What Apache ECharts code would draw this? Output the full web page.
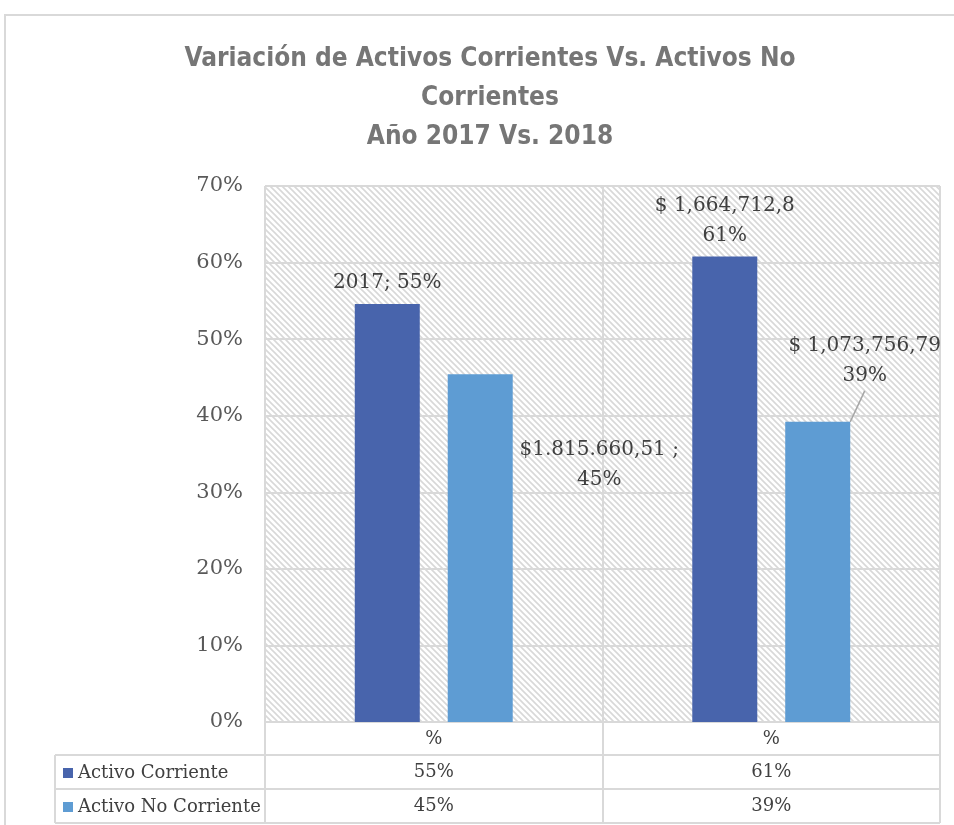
<!DOCTYPE html>
<html>
<head>
<meta charset="utf-8">
<script src="https://cdn.jsdelivr.net/npm/echarts@6/dist/echarts.min.js"></script>
<style>
  html, body { margin: 0; padding: 0; background: #fff; }
  #chart { width: 954px; height: 825px; }
</style>
</head>
<body>
<div id="chart"></div>
<script>
// data
var categories = ['%', '%'];
var seriesNames = ['Activo Corriente', 'Activo No Corriente'];
var activoCorriente = [54.6, 60.8];
var activoNoCorriente = [45.4, 39.2];
var corrienteLabels = ['2017; 55%', '$ 1,664,712,8\n61%'];
var noCorrienteLabels = ['$1.815.660,51 ;\n45%', '$ 1,073,756,79\n39%'];

var serif = "'DejaVu Serif', serif";
var narrow = "'Liberation Sans Narrow', 'DejaVu Sans Condensed', sans-serif";
var lineGray = '#d9d9d9';
var textGray = '#404040';
var dark = '#4864ac';
var light = '#5e9cd3';

function pct(v) { return Math.round(v) + '%'; }

// diagonal hatch for the plot background
function hatch() {
  var s = 6;
  var c = document.createElement('canvas');
  c.width = s; c.height = s;
  var ctx = c.getContext('2d');
  ctx.fillStyle = '#fff';
  ctx.fillRect(0, 0, s, s);
  ctx.strokeStyle = '#d8d8d8';
  ctx.lineWidth = 1.6;
  ctx.beginPath();
  ctx.moveTo(-2, -2); ctx.lineTo(s + 2, s + 2);
  ctx.moveTo(-2, s - 2); ctx.lineTo(2, s + 2);
  ctx.moveTo(s - 2, -2); ctx.lineTo(s + 2, 2);
  ctx.stroke();
  return c;
}

var chart = echarts.init(document.getElementById('chart'));

var tableAxis = function (values, offset) {
  return {
    type: 'category', data: categories, position: 'bottom', offset: offset,
    axisLine: { show: false }, axisTick: { show: false }, splitLine: { show: false },
    axisLabel: {
      margin: 8, fontFamily: serif, fontSize: 18, color: textGray,
      formatter: function (v, i) { return pct(values[i]); }
    }
  };
};

chart.setOption({
  animation: false,
  title: {
    text: 'Variación de Activos Corrientes Vs. Activos No\nCorrientes\nAño 2017 Vs. 2018',
    left: 485, top: 35, textAlign: 'center',
    textStyle: { fontFamily: narrow, fontWeight: 'bold', fontSize: 26, lineHeight: 39, color: '#767676' }
  },
  legend: {
    orient: 'vertical', left: 58, top: 757,
    itemWidth: 10, itemHeight: 10, itemGap: 12, icon: 'rect',
    textStyle: { fontFamily: serif, fontSize: 18, lineHeight: 22, color: textGray },
    data: seriesNames
  },
  grid: {
    left: 265, right: 14, top: 186, bottom: 103,
    show: true, borderWidth: 0,
    backgroundColor: { image: hatch(), repeat: 'repeat' }
  },
  xAxis: [
    {
      type: 'category', data: categories,
      axisLine: { lineStyle: { color: lineGray, width: 2 } },
      axisTick: { show: true, length: 101, lineStyle: { color: lineGray, width: 2 } },
      splitLine: { show: true, lineStyle: { color: lineGray, width: 2 } },
      axisLabel: { margin: 8, fontFamily: serif, fontSize: 18, color: textGray }
    },
    tableAxis(activoCorriente, 33),
    tableAxis(activoNoCorriente, 67)
  ],
  yAxis: {
    type: 'value', min: 0, max: 70, interval: 10,
    axisLine: { show: false }, axisTick: { show: false },
    splitLine: { lineStyle: { color: lineGray, width: 2 } },
    axisLabel: { formatter: '{value}%', margin: 22, fontFamily: serif, fontSize: 21, color: '#595959' }
  },
  series: [
    {
      type: 'bar', name: seriesNames[0], data: activoCorriente,
      barWidth: 65, barGap: '43%',
      itemStyle: { color: dark },
      label: {
        show: true, position: 'top', distance: 6,
        fontFamily: serif, fontSize: 20, lineHeight: 30, color: textGray,
        formatter: function (p) { return corrienteLabels[p.dataIndex]; }
      }
    },
    {
      type: 'bar', name: seriesNames[1],
      data: activoNoCorriente.map(function (v, i) {
        return {
          value: v,
          labelLine: { show: i === 1, lineStyle: { color: '#a6a6a6', width: 1.5 } }
        };
      }),
      barWidth: 65, barGap: '43%',
      itemStyle: { color: light },
      label: {
        show: true, position: 'top', distance: 5,
        fontFamily: serif, fontSize: 20, lineHeight: 30, color: textGray,
        formatter: function (p) { return noCorrienteLabels[p.dataIndex]; }
      },
      labelLayout: function (p) {
        if (p.dataIndex === 0) return { dx: 119, dy: 125 };
        return { dx: 47, dy: -26 };
      }
    }
  ],
  graphic: [
    { type: 'rect', z: -10, shape: { x: 5, y: 15, width: 1000, height: 1000 },
      style: { fill: 'none', stroke: lineGray, lineWidth: 2 } },
    { type: 'line', shape: { x1: 55, y1: 755, x2: 940, y2: 755 }, style: { stroke: lineGray, lineWidth: 2 } },
    { type: 'line', shape: { x1: 55, y1: 789, x2: 940, y2: 789 }, style: { stroke: lineGray, lineWidth: 2 } },
    { type: 'line', shape: { x1: 55, y1: 823, x2: 940, y2: 823 }, style: { stroke: lineGray, lineWidth: 2 } },
    { type: 'line', shape: { x1: 55, y1: 755, x2: 55, y2: 823 }, style: { stroke: lineGray, lineWidth: 2 } }
  ]
});
</script>
</body>
</html>
